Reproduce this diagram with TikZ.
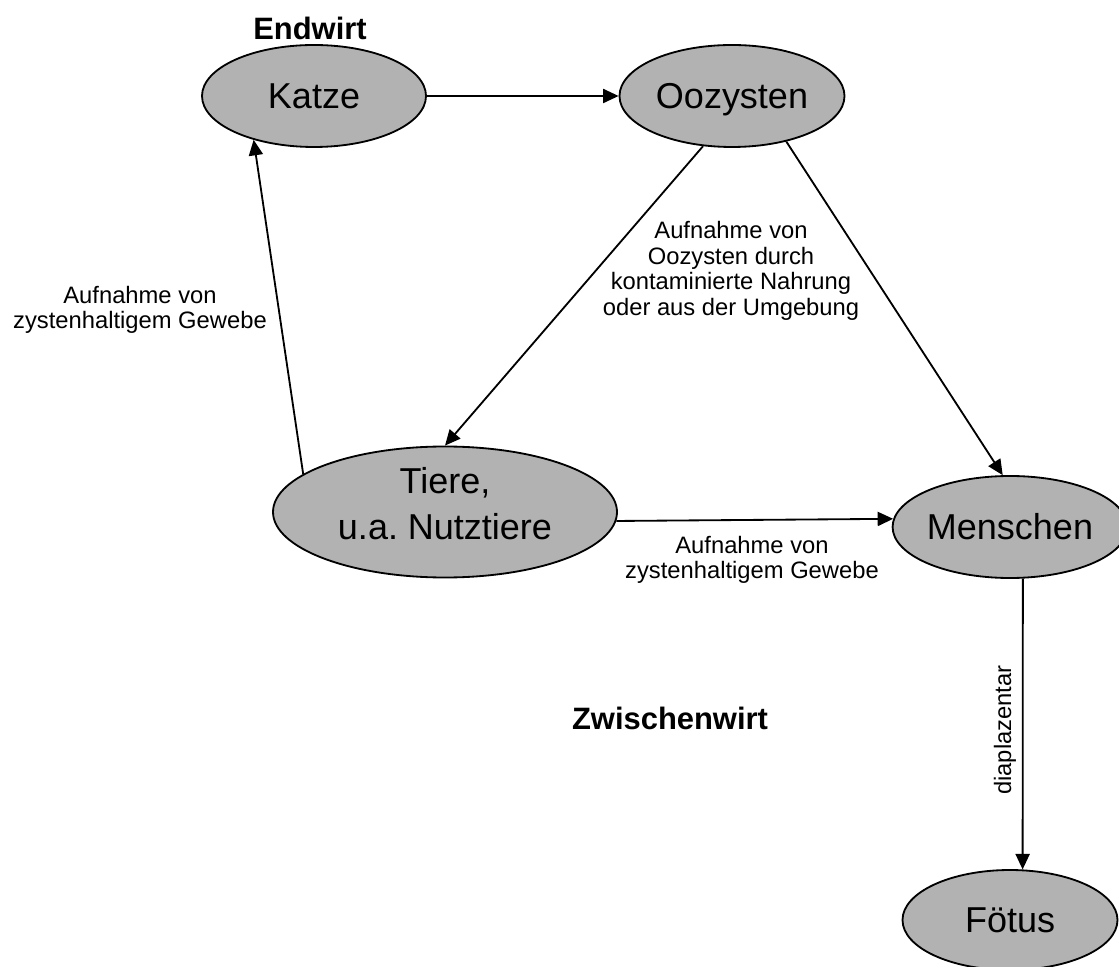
\documentclass[tikz,border=0pt]{standalone}
\usepackage{fontspec}
\setmainfont{Liberation Sans}
\usetikzlibrary{shapes.geometric,arrows.meta}
\definecolor{stagegray}{gray}{0.7}
\frenchspacing

\begin{document}
\begin{tikzpicture}[
  stage/.style={ellipse, draw, line width=1.3pt, fill=stagegray, inner sep=0pt,
    minimum width=5.6cm, minimum height=2.55cm, align=center,
    font=\fontsize{25.6}{32.7}\selectfont},
  word/.style={stage, text height=18.4pt, text depth=0pt},
  host/.style={font=\fontsize{22}{26}\selectfont\bfseries},
  note/.style={font=\fontsize{16.9}{18.1}\selectfont, align=center},
  link/.style={-{Triangle[length=11pt,width=10pt]}, line width=1.3pt}
]
  \useasboundingbox (0,0) rectangle (27.975,24.15);

  % Stages of the cycle
  \node[word] (katze) at (7.85,21.75) {Katze};
  \node[word, minimum width=5.625cm] (oozysten) at (18.3,21.75) {Oozysten};
  \node[stage, minimum width=8.6cm, minimum height=3.275cm, text depth=12.8pt] (tiere) at (11.125,11.35) {Tiere,\\u.a. Nutztiere};
  \node[word, minimum width=5.375cm] (menschen) at (25.25,10.975) {Menschen};
  \node[word, minimum width=5.375cm, minimum height=2.5cm] (foetus) at (25.25,1.15) {Fötus};

  % Hosts
  \node[host] (endwirt) at (7.75,23.45) {Endwirt};
  \node[host] (zwischenwirt) at (16.75,6.2) {Zwischenwirt};

  % Labels
  \node[note] (gewebeA) at (3.5,16.4) {Aufnahme von\\zystenhaltigem Gewebe};
  \node[note] (nahrung) at (18.275,17.375) {Aufnahme von\\Oozysten durch\\kontaminierte Nahrung\\oder aus der Umgebung};
  \node[note] (gewebeB) at (18.8,10.16) {Aufnahme von\\zystenhaltigem Gewebe};
  \node[note, rotate=90] (dia) at (25.125,5.9) {diaplazentar};

  % Connections
  \draw[link] (katze) -- (oozysten);
  \draw[link] (oozysten.240) -- (tiere.north);
  \draw[link] (oozysten.320) -- (menschen.98);
  \draw[link] (tiere.165) -- (katze.216);
  \draw[link] (tiere.357.7) -- (menschen.176.3);
  \draw[link] (menschen.284) -- (foetus.76);

\end{tikzpicture}
\end{document}
